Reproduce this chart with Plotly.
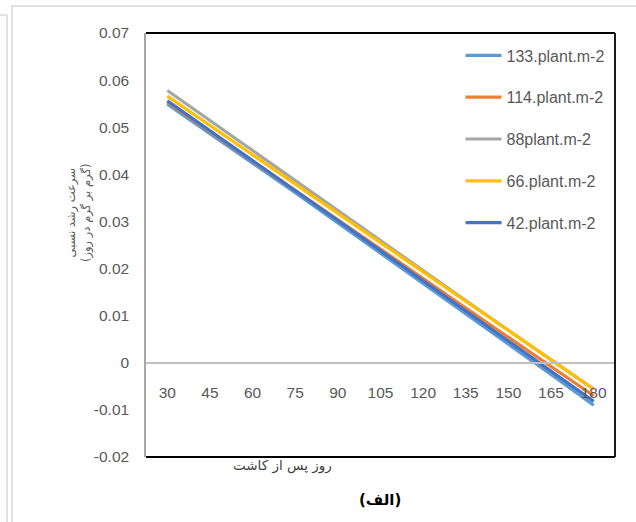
import plotly.graph_objects as go

days = ["30", "45", "60", "75", "90", "105", "120", "135", "150", "165", "180"]
series_names = ["133.plant.m-2", "114.plant.m-2", "88plant.m-2", "66.plant.m-2", "42.plant.m-2"]
rgr_133 = [0.0549, 0.0487, 0.0424, 0.0361, 0.0297, 0.0233, 0.0169, 0.0105, 0.0040, -0.0025, -0.0090]
rgr_114 = [0.0553, 0.0491, 0.0429, 0.0367, 0.0305, 0.0242, 0.0179, 0.0116, 0.0054, -0.0008, -0.0070]
rgr_88 = [0.0578, 0.0514, 0.0450, 0.0386, 0.0322, 0.0258, 0.0195, 0.0132, 0.0069, 0.0006, -0.0056]
rgr_66 = [0.0566, 0.0504, 0.0442, 0.0380, 0.0318, 0.0256, 0.0193, 0.0130, 0.0068, 0.0006, -0.0056]
rgr_42 = [0.0556, 0.0493, 0.0430, 0.0366, 0.0302, 0.0238, 0.0174, 0.0110, 0.0046, -0.0018, -0.0082]
colors = ["#5B9BD5", "#ED7D31", "#A5A5A5", "#FFC000", "#4472C4"]
y_ticks = [0.07, 0.06, 0.05, 0.04, 0.03, 0.02, 0.01, 0, -0.01, -0.02]
y_tick_text = ["0.07", "0.06", "0.05", "0.04", "0.03", "0.02", "0.01", "0", "-0.01", "-0.02"]

all_series = [rgr_133, rgr_114, rgr_88, rgr_66, rgr_42]

FONT = "Liberation Sans, Arial, sans-serif"
AR_FONT = "DejaVu Sans, Noto Sans, sans-serif"

fig = go.Figure()
for name, vals, col in zip(series_names, all_series, colors):
    fig.add_trace(go.Scatter(
        x=days, y=vals, mode="lines", name=name, legendgroup=name,
        line=dict(color=col, width=3.2),
    ))

ymin, ymax = -0.02, 0.07
zero_pos = (0 - ymin) / (ymax - ymin)

fig.update_layout(
    width=636, height=522,
    margin=dict(l=146, r=21, t=33, b=65),
    paper_bgcolor="white", plot_bgcolor="white",
    showlegend=True,
    legend=dict(
        x=0.6706, y=0.987, xanchor="left", yanchor="top",
        font=dict(family=FONT, size=16, color="#595959"),
        bgcolor="rgba(0,0,0,0)", tracegroupgap=18,
        itemwidth=36,
    ),
    xaxis=dict(
        type="category", range=[-0.5, 10.5],
        anchor="free", position=zero_pos,
        showline=True, linecolor="#BFBFBF", linewidth=1.5,
        showgrid=False, zeroline=False,
        ticks="", ticklabelstandoff=16,
        tickfont=dict(family=FONT, size=15.5, color="#595959"),
    ),
    yaxis=dict(
        range=[ymin, ymax], tickvals=y_ticks, ticktext=y_tick_text,
        showline=True, linecolor="#A6A6A6", linewidth=1.5,
        showgrid=False, zeroline=False,
        ticks="", ticklabelstandoff=12,
        tickfont=dict(family=FONT, size=15.5, color="#595959"),
    ),
)

# plot-area border (top, right, bottom)
for x0, y0, x1, y1 in [(0, 1, 1, 1), (1, 0, 1, 1), (0, 0, 1, 0)]:
    fig.add_shape(type="line", xref="x domain", yref="y domain",
                  x0=x0, y0=y0, x1=x1, y1=y1,
                  line=dict(color="black", width=1.8), layer="above")

# outer chart frame
fig.add_shape(type="line", xref="paper", yref="paper", x0=-134/469, x1=-134/469,
              y0=-70/424, y1=(424 + 28) / 424, line=dict(color="#D9D9D9", width=1.5))
fig.add_shape(type="line", xref="paper", yref="paper", x0=-134/469, x1=(469 + 30) / 469,
              y0=(424 + 27) / 424, y1=(424 + 27) / 424, line=dict(color="#D9D9D9", width=1.5))
fig.add_shape(type="line", xref="paper", yref="paper", x0=-139/469, x1=-139/469,
              y0=-70/424, y1=(424 + 18) / 424, line=dict(color="#D9D9D9", width=1.5))
fig.add_shape(type="line", xref="paper", yref="paper", x0=-150/469, x1=-139/469,
              y0=(424 + 18) / 424, y1=(424 + 18) / 424, line=dict(color="#D9D9D9", width=1.5))

# y-axis title
fig.add_annotation(
    xref="paper", yref="paper", x=-67/469, y=(457 - 213) / 424,
    xanchor="center", yanchor="middle",
    text="سرعت رشد نسبی<br>(گرم بر گرم در روز)", textangle=-90, showarrow=False,
    font=dict(family=AR_FONT, size=11.5, color="#595959"), align="center",
)
# x-axis title
fig.add_annotation(
    xref="paper", yref="paper", x=(282 - 146) / 469, y=-(465 - 457) / 424,
    xanchor="center", yanchor="middle", text="روز پس از کاشت", showarrow=False,
    font=dict(family=AR_FONT, size=13.5, color="#404040"),
)
# panel label
fig.add_annotation(
    xref="paper", yref="paper", x=(380 - 146) / 469, y=-(500 - 457) / 424,
    xanchor="center", yanchor="middle", text="<b>(الف)</b>", showarrow=False,
    font=dict(family=AR_FONT, size=15, color="black"),
)

fig.write_html("out.html")
